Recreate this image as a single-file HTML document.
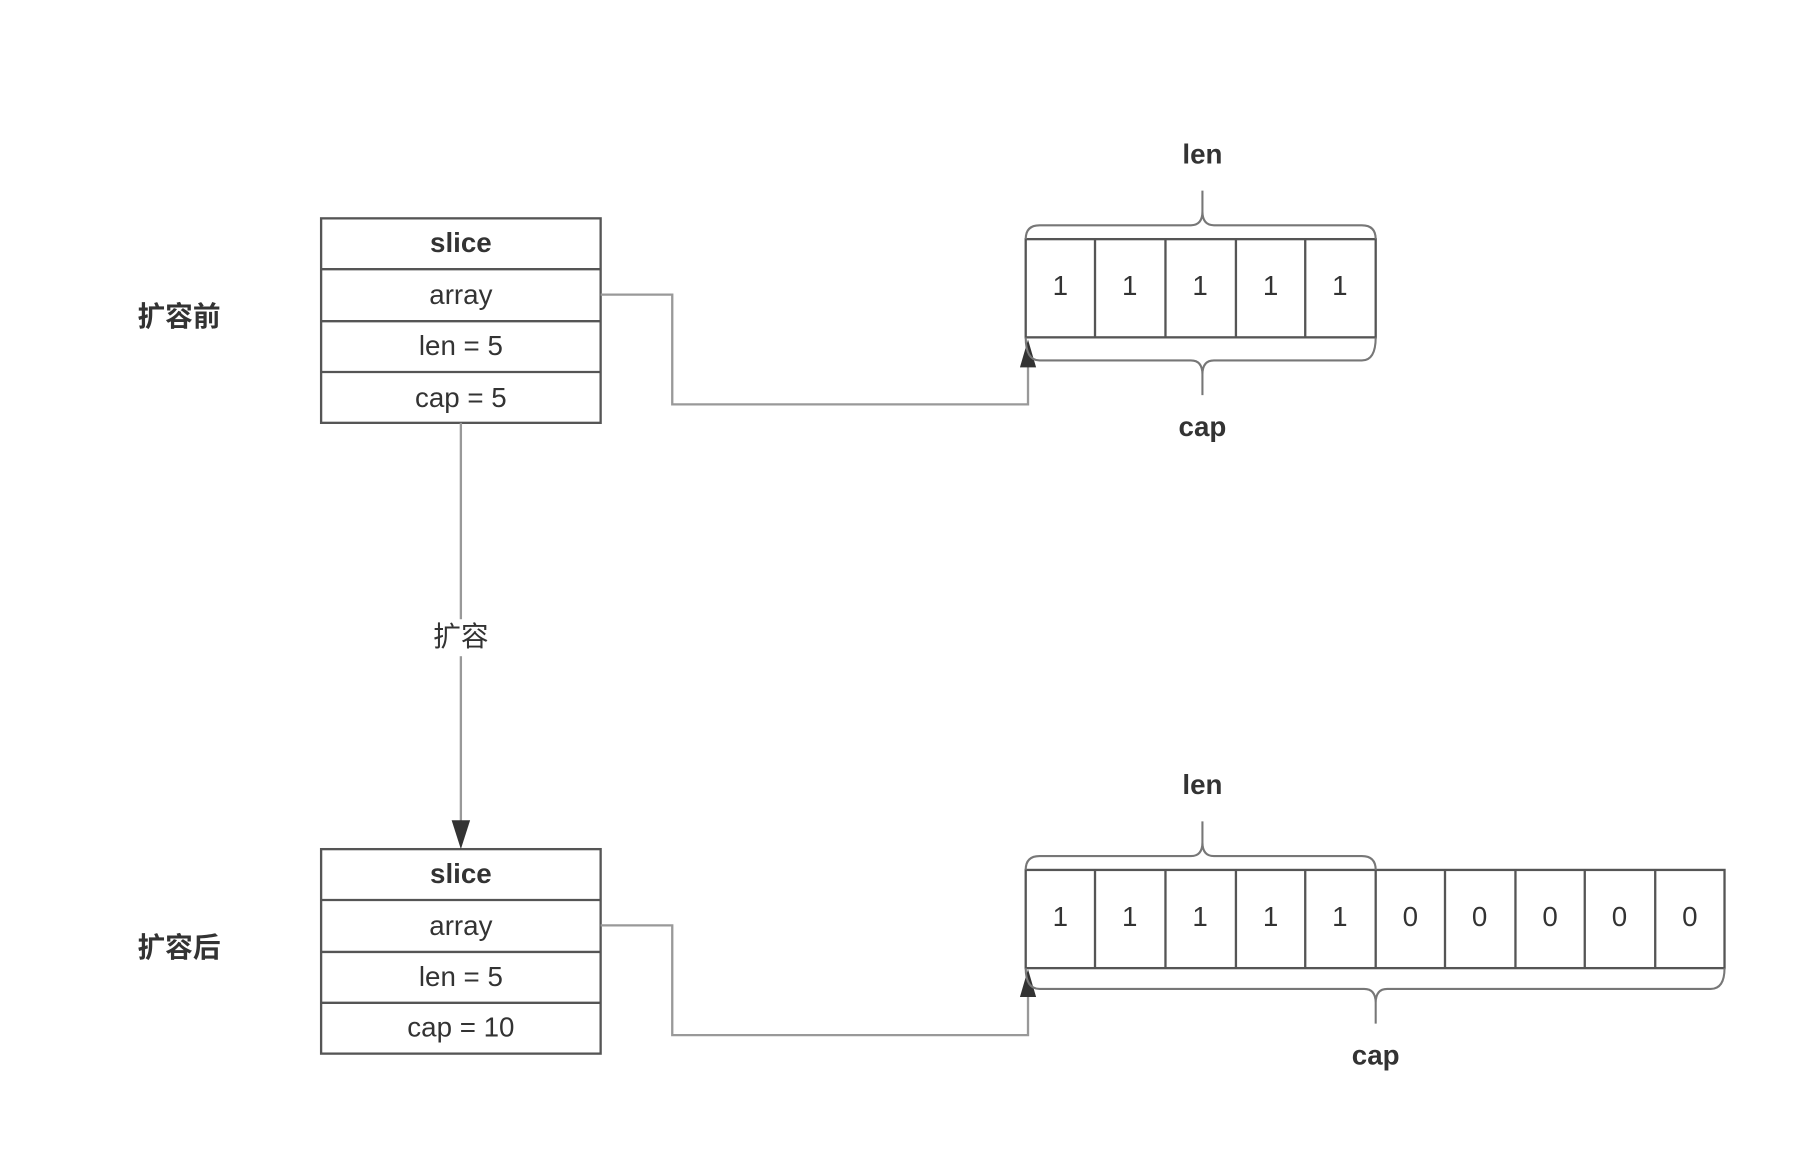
<!DOCTYPE html>
<html><head><meta charset="utf-8"><style>html,body{margin:0;padding:0;background:#fff}svg{display:block}</style></head>
<body>
<svg width="1810" height="1168" viewBox="0 0 1567 1011" preserveAspectRatio="none" xmlns="http://www.w3.org/2000/svg" font-family="'Liberation Sans','Noto Sans CJK SC',sans-serif">
<rect width="1567" height="1011" fill="#fff"/>
<g fill="#333" font-size="24" text-anchor="middle" dominant-baseline="middle">
<text x="155" y="276" font-weight="bold">扩容前</text>
<text x="155" y="822" font-weight="bold">扩容后</text>
</g>
<g stroke="#555" stroke-width="2" fill="#fff">
<rect x="278" y="189" width="242" height="177"/>
<line x1="278" y1="233" x2="520" y2="233"/><line x1="278" y1="278" x2="520" y2="278"/><line x1="278" y1="322" x2="520" y2="322"/>
<rect x="278" y="735" width="242" height="177"/>
<line x1="278" y1="779" x2="520" y2="779"/><line x1="278" y1="824" x2="520" y2="824"/><line x1="278" y1="868" x2="520" y2="868"/>
</g>
<g fill="#333" font-size="24" text-anchor="middle" dominant-baseline="middle">
<text x="399" y="212" font-weight="bold">slice</text><text x="399" y="257">array</text><text x="399" y="301">len = 5</text><text x="399" y="346">cap = 5</text>
<text x="399" y="758" font-weight="bold">slice</text><text x="399" y="803">array</text><text x="399" y="847">len = 5</text><text x="399" y="891">cap = 10</text>
</g>
<g stroke="#999" stroke-width="2" fill="none">
<polyline points="520,255 582,255 582,350 890,350 890,310"/>
<polyline points="520,801 582,801 582,896 890,896 890,856"/>
<line x1="399" y1="366" x2="399" y2="715"/>
</g>
<g fill="#333">
<polygon points="890,294 883,318 897,318"/>
<polygon points="890,839 883,863 897,863"/>
<polygon points="399,735 391,710 407,710"/>
</g>
<rect x="365" y="536" width="68" height="32" fill="#fff"/>
<text x="399" y="553" font-size="24" fill="#333" text-anchor="middle" dominant-baseline="middle">扩容</text>
<g stroke="#555" stroke-width="2" fill="#fff">
<rect x="888" y="207" width="303" height="85"/>
<line x1="948" y1="207" x2="948" y2="292"/><line x1="1009" y1="207" x2="1009" y2="292"/><line x1="1070" y1="207" x2="1070" y2="292"/><line x1="1130" y1="207" x2="1130" y2="292"/>
<rect x="888" y="753" width="605" height="85"/>
<line x1="948" y1="753" x2="948" y2="838"/><line x1="1009" y1="753" x2="1009" y2="838"/><line x1="1070" y1="753" x2="1070" y2="838"/><line x1="1130" y1="753" x2="1130" y2="838"/><line x1="1191" y1="753" x2="1191" y2="838"/><line x1="1251" y1="753" x2="1251" y2="838"/><line x1="1312" y1="753" x2="1312" y2="838"/><line x1="1372" y1="753" x2="1372" y2="838"/><line x1="1433" y1="753" x2="1433" y2="838"/>
</g>
<g fill="#333" font-size="24" text-anchor="middle" dominant-baseline="middle">
<text x="918" y="249">1</text><text x="978" y="249">1</text><text x="1039" y="249">1</text><text x="1100" y="249">1</text><text x="1160" y="249">1</text>
<text x="918" y="795">1</text><text x="978" y="795">1</text><text x="1039" y="795">1</text><text x="1100" y="795">1</text><text x="1160" y="795">1</text>
<text x="1221" y="795">0</text><text x="1281" y="795">0</text><text x="1342" y="795">0</text><text x="1402" y="795">0</text><text x="1463" y="795">0</text>
</g>
<g stroke="#777" stroke-width="1.8" fill="none">
<path d="M888 207 Q888 195 900 195 L1031 195 Q1041 195 1041 183 L1041 165 M1041 183 Q1041 195 1051 195 L1179 195 Q1191 195 1191 207"/>
<path d="M888 292 Q888 312 900 312 L1031 312 Q1041 312 1041 324 L1041 342 M1041 324 Q1041 312 1051 312 L1179 312 Q1191 312 1191 292"/>
<path d="M888 753 Q888 741 900 741 L1031 741 Q1041 741 1041 729 L1041 711 M1041 729 Q1041 741 1051 741 L1179 741 Q1191 741 1191 753"/>
<path d="M888 838 Q888 856 900 856 L1181 856 Q1191 856 1191 868 L1191 886 M1191 868 Q1191 856 1201 856 L1481 856 Q1493 856 1493 838"/>
</g>
<g fill="#333" font-size="24" font-weight="bold" text-anchor="middle" dominant-baseline="middle">
<text x="1041" y="135">len</text><text x="1041" y="371">cap</text>
<text x="1041" y="681">len</text><text x="1191" y="915">cap</text>
</g>
</svg>
</body></html>
